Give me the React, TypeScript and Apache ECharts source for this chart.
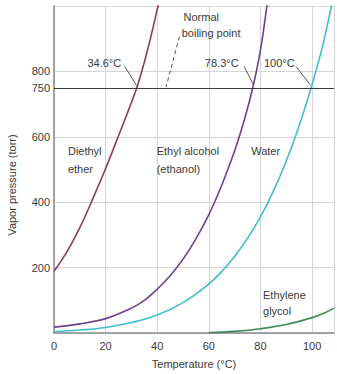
import React, { useEffect, useRef } from "react";
import * as echarts from "echarts";

// ---- data (°C, torr) ----
const etherT = [0, 5, 10, 15, 20, 25, 30, 32.5, 35, 37.5, 40, 41];
const etherP = [189, 248, 322, 410, 503, 603, 705, 760, 828, 905, 990, 1025];

const ethanolT = [0, 10, 20, 30, 35, 40, 45, 50, 55, 60, 65, 70, 74, 77.3, 80, 82.5, 83];
const ethanolP = [18, 28, 44, 76, 100, 134, 175, 226, 288, 362, 452, 557, 658, 760, 865, 1000, 1030];

const waterT = [0, 10, 20, 30, 40, 50, 60, 65, 70, 75, 80, 85, 90, 95, 100, 104, 107.5, 108.5];
const waterP = [4, 9, 17, 32, 55, 93, 150, 188, 234, 290, 355, 434, 526, 634, 760, 875, 1000, 1040];

const glycolT = [60, 70, 80, 90, 100, 105, 108.5];
const glycolP = [1, 5, 13, 26, 47, 62, 76];

const xTicks = [0, 20, 40, 60, 80, 100];
const yTicks = [200, 400, 600, 800];
const boilingP = 750;

const zip = (a: number[], b: number[]) => a.map((v, i) => [v, b[i]]);

// annotations in data coordinates
const labels = [
  { text: "34.6°C", x: 19.5, y: 827, align: "center" },
  { text: "Normal", x: 50.2, y: 967, align: "left" },
  { text: "boiling point", x: 49.5, y: 918, align: "left" },
  { text: "78.3°C", x: 65, y: 827, align: "center" },
  { text: "100°C", x: 87.3, y: 827, align: "center" },
  { text: "Diethyl", x: 5.4, y: 556, align: "left" },
  { text: "ether", x: 5.4, y: 502, align: "left" },
  { text: "Ethyl alcohol", x: 39.8, y: 556, align: "left" },
  { text: "(ethanol)", x: 39.8, y: 502, align: "left" },
  { text: "Water", x: 76.4, y: 556, align: "left" },
  { text: "Ethylene", x: 81, y: 115, align: "left" },
  { text: "glycol", x: 81, y: 67, align: "left" },
];
const leaders = [
  { from: [27.4, 815], to: [32, 757], dashed: false },
  { from: [48.6, 906], to: [43.4, 752], dashed: true },
  { from: [73.7, 815], to: [77.2, 760], dashed: false },
  { from: [93.8, 815], to: [99.2, 760], dashed: false },
];

const FONT = '"Liberation Sans", Arial, sans-serif';
const TXT = "#3a3a3a";

export default function App() {
  const ref = useRef<HTMLDivElement>(null);
  useEffect(() => {
    if (!ref.current) return;
    const chart = echarts.init(ref.current, undefined, { renderer: "svg" });
    const line = (name: string, data: number[][], color: string) => ({
      name,
      type: "line",
      data,
      smooth: 0.4,
      showSymbol: false,
      clip: true,
      lineStyle: { color, width: 1.6 },
    });
    chart.setOption({
      animation: false,
      textStyle: { fontFamily: FONT },
      grid: { left: 54, right: 2, top: 6, bottom: 39 },
      xAxis: {
        type: "value",
        min: 0,
        max: 108.5,
        interval: 20,
        name: "Temperature (°C)",
        nameLocation: "middle",
        nameGap: 25,
        nameTextStyle: { color: TXT, fontSize: 11, fontFamily: FONT },
        axisLine: { show: true, lineStyle: { color: "#8a8a8a", width: 1.5 } },
        axisTick: { show: false },
        axisLabel: {
          color: TXT,
          fontSize: 11,
          margin: 7,
          formatter: (v: number) => (xTicks.includes(v) ? String(v) : ""),
        },
        splitLine: { show: true, lineStyle: { color: "#d4d4d4", width: 1 } },
      },
      yAxis: {
        type: "value",
        min: 0,
        max: 1000,
        interval: 200,
        axisLine: { show: true, lineStyle: { color: "#8a8a8a", width: 1.5 } },
        axisTick: { show: false },
        axisLabel: {
          color: TXT,
          fontSize: 11,
          margin: 4,
          formatter: (v: number) => (yTicks.includes(v) ? String(v) : ""),
        },
        splitLine: { show: true, lineStyle: { color: "#d4d4d4", width: 1 } },
      },
      series: [
        {
          ...line("Diethyl ether", zip(etherT, etherP), "#8d3a62"),
          markLine: {
            silent: true,
            symbol: "none",
            lineStyle: { color: "#3a3a3a", width: 1.2, type: "solid" },
            label: {
              show: true,
              position: "start",
              formatter: String(boilingP),
              color: TXT,
              fontSize: 11,
              distance: 4,
              fontFamily: FONT,
            },
            data: [{ yAxis: boilingP }],
          },
        },
        line("Ethyl alcohol", zip(ethanolT, ethanolP), "#6a4190"),
        line("Water", zip(waterT, waterP), "#3fbdcc"),
        line("Ethylene glycol", zip(glycolT, glycolP), "#3f8a58"),
      ],
    });

    const px = (p: number[]) => chart.convertToPixel({ gridIndex: 0 }, p) as number[];
    const graphic: any[] = [];
    labels.forEach((l) => {
      const [x, y] = px([l.x, l.y]);
      graphic.push({
        type: "text",
        x,
        y,
        style: {
          text: l.text,
          fill: TXT,
          font: `11px ${FONT}`,
          textAlign: l.align,
          textVerticalAlign: "middle",
        },
      });
    });
    leaders.forEach((ld) => {
      const [x1, y1] = px(ld.from);
      const [x2, y2] = px(ld.to);
      graphic.push({
        type: "line",
        shape: { x1, y1, x2, y2 },
        style: { stroke: "#555", lineWidth: 1, lineDash: ld.dashed ? [4, 3] : null },
      });
    });
    graphic.push({
      type: "text",
      x: 12,
      y: 185,
      rotation: Math.PI / 2,
      style: {
        text: "Vapor pressure (torr)",
        fill: TXT,
        font: `11px ${FONT}`,
        textAlign: "center",
        textVerticalAlign: "middle",
      },
    });
    chart.setOption({ graphic });
    return () => chart.dispose();
  }, []);
  return (
    <div
      ref={ref}
      style={{ position: "fixed", left: 0, top: 0, width: 337, height: 374, background: "#fff" }}
    />
  );
}
